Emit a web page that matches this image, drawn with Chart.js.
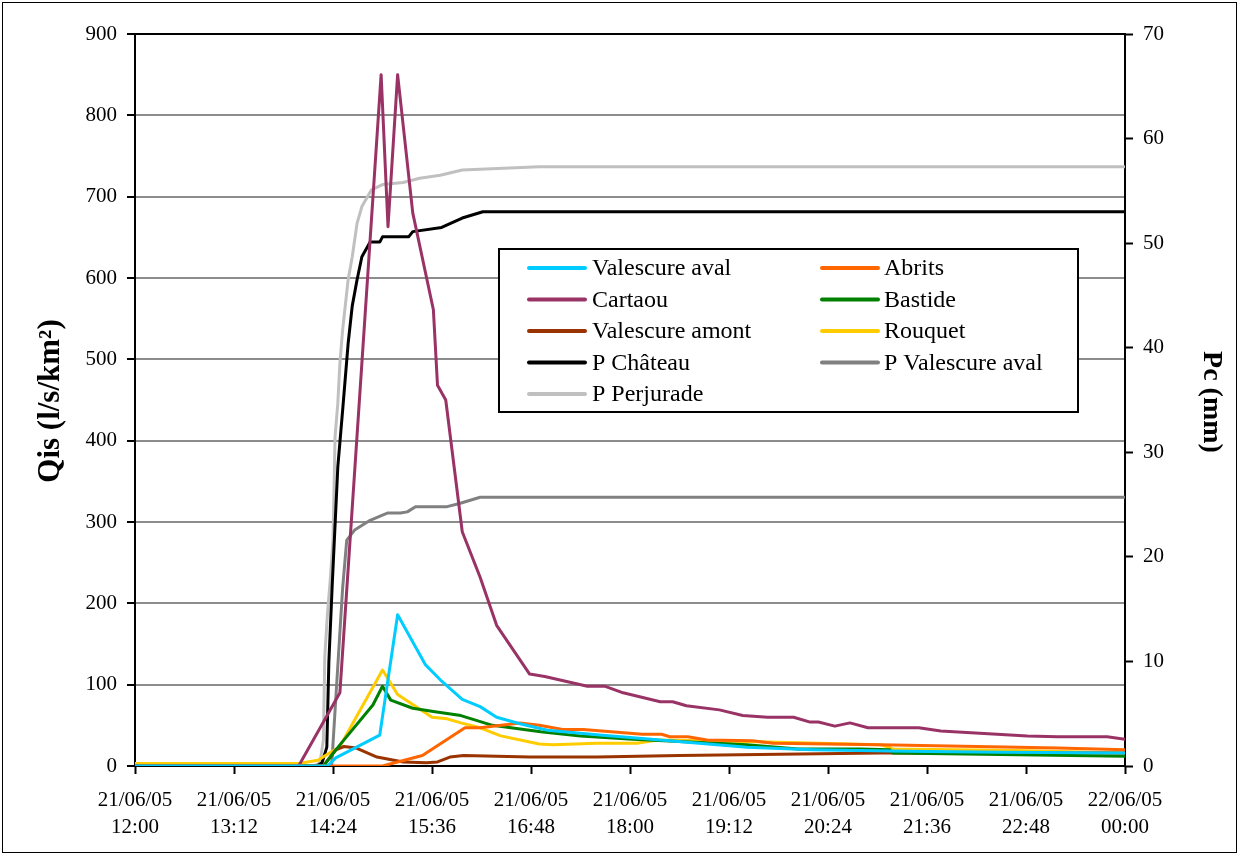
<!DOCTYPE html>
<html>
<head>
<meta charset="utf-8">
<script src="https://cdn.jsdelivr.net/npm/chart.js@4/dist/chart.umd.min.js"></script>
<style>
  html, body { margin: 0; padding: 0; background: #fff; }
  #wrap { width: 1239px; height: 855px; }
</style>
</head>
<body>
<div id="wrap"><canvas id="c" width="1239" height="855"></canvas></div>
<script>
// Time axis: minutes after 21/06/05 12:00, ticks every 1 h 12
const tickDates = ['21/06/05','21/06/05','21/06/05','21/06/05','21/06/05','21/06/05','21/06/05','21/06/05','21/06/05','21/06/05','22/06/05'];
const tickTimes = ['12:00','13:12','14:24','15:36','16:48','18:00','19:12','20:24','21:36','22:48','00:00'];

// Specific discharge Qis (l/s/km2)
const valescureAvalMin = [0, 140, 146, 178, 191, 211, 222, 238, 251, 263, 280, 300, 338, 382, 445, 493, 560, 630, 720];
const valescureAvalQ   = [0, 0, 10, 38, 186, 125, 106, 82, 73, 60, 52, 44, 38, 32, 23, 20, 18, 17, 16];

const abritsMin = [0, 180, 209, 240, 251, 280, 294, 311, 326, 369, 383, 389, 402, 416, 449, 464, 542, 642, 671, 720];
const abritsQ   = [0, 0, 13, 47, 47, 53, 50, 45, 45, 39, 39, 36, 36, 32, 31, 28, 26, 23, 22, 20];

const cartaouMin = [0, 119, 149, 179, 184, 191, 202, 217, 220, 226, 238, 251, 263, 287, 298, 329, 342, 355, 382, 391, 401, 425, 442, 460, 479, 491, 497, 509, 520, 533, 570, 586, 649, 671, 707, 720];
const cartaouQ   = [0, 0, 90, 850, 663, 850, 680, 561, 468, 450, 288, 232, 173, 113, 110, 98, 98, 90, 79, 79, 74, 69, 62, 60, 60, 54, 54, 49, 53, 47, 47, 43, 37, 36, 36, 33];

const bastideMin = [0, 137, 149, 173, 180, 186, 202, 217, 237, 260, 295, 324, 362, 445, 482, 527, 549, 551, 720];
const bastideQ   = [0, 0, 26, 75, 98, 81, 71, 67, 62, 50, 42, 37, 33, 26, 21, 21, 20, 16, 12];

const valescureAmontMin = [0, 137, 146, 152, 161, 176, 195, 212, 220, 229, 239, 287, 336, 396, 542, 720];
const valescureAmontQ   = [0, 0, 20, 24, 22, 11, 5, 4, 5, 11, 13, 11, 11, 13, 16, 16];

const rouquetMin = [0, 119, 133, 149, 180, 191, 216, 227, 237, 251, 266, 294, 304, 336, 365, 380, 445, 542, 549, 551, 642, 720];
const rouquetQ   = [3, 3, 7, 24, 118, 88, 60, 58, 53, 47, 37, 27, 26, 28, 28, 32, 30, 26, 23, 21, 19, 16];

// Cumulative rainfall Pc (mm)
const chateauMin = [0, 132, 136, 139.5, 141, 143.5, 147.5, 151, 155, 158, 161.5, 165, 171, 178, 180, 199, 202, 223, 238, 253, 720];
const chateauP   = [0, 0, 0.3, 1.8, 10, 17.5, 28.6, 34, 40.4, 44, 46.5, 48.7, 50.1, 50.1, 50.6, 50.6, 51.1, 51.5, 52.4, 53, 53];

const pValescureAvalMin = [0, 143, 151, 154, 160, 171, 180, 184, 193, 198, 204, 227, 236, 251, 720];
const pValescureAvalP   = [0, 0, 17, 21.6, 22.6, 23.5, 24.0, 24.2, 24.2, 24.3, 24.8, 24.8, 25.1, 25.7, 25.7];

const perjuradeMin = [0, 130, 134.5, 137, 138, 140, 142, 144, 145.5, 147.5, 149, 151, 155, 158, 161.5, 165, 172, 180, 195, 207, 222, 238, 294, 720];
const perjuradeP   = [0, 0, 0.3, 2.5, 10.4, 14.6, 17.8, 21.6, 31.5, 34.7, 38.5, 41.7, 46.5, 48.7, 51.9, 53.5, 55.1, 55.6, 55.8, 56.2, 56.5, 57, 57.3, 57.3];

const pts = (xs, ys) => xs.map((x, i) => ({ x: x, y: ys[i] }));

const serif = 'Liberation Serif, Times New Roman, serif';

function series(label, color, xs, ys, axis) {
  return {
    label: label,
    data: pts(xs, ys),
    borderColor: color,
    backgroundColor: color,
    borderWidth: 3,
    pointRadius: 0,
    tension: 0,
    fill: false,
    yAxisID: axis,
    borderJoinStyle: 'round',
    borderCapStyle: 'round'
  };
}

const datasets = [
  series('Valescure aval', '#00CCFF', valescureAvalMin, valescureAvalQ, 'yQ'),
  series('Abrits', '#FF6600', abritsMin, abritsQ, 'yQ'),
  series('Cartaou', '#993366', cartaouMin, cartaouQ, 'yQ'),
  series('Bastide', '#008000', bastideMin, bastideQ, 'yQ'),
  series('Valescure amont', '#993300', valescureAmontMin, valescureAmontQ, 'yQ'),
  series('Rouquet', '#FFCC00', rouquetMin, rouquetQ, 'yQ'),
  series('P Château', '#000000', chateauMin, chateauP, 'yP'),
  series('P Valescure aval', '#808080', pValescureAvalMin, pValescureAvalP, 'yP'),
  series('P Perjurade', '#C0C0C0', perjuradeMin, perjuradeP, 'yP')
];

// Page background, outer frame, top edge of the plot, axis titles and legend box
const decorations = {
  id: 'decorations',
  beforeDraw(chart) {
    const ctx = chart.ctx;
    ctx.save();
    ctx.fillStyle = '#fff';
    ctx.fillRect(0, 0, chart.width, chart.height);
    ctx.restore();
  },
  afterDraw(chart) {
    const ctx = chart.ctx;
    const a = chart.chartArea;
    ctx.save();
    // outer frame
    ctx.strokeStyle = '#000';
    ctx.lineWidth = 1;
    ctx.strokeRect(2.5, 2.5, chart.width - 5, chart.height - 5);
    // top edge of the plot area
    ctx.lineWidth = 2;
    ctx.beginPath();
    ctx.moveTo(a.left, a.top);
    ctx.lineTo(a.right, a.top);
    ctx.stroke();

    // axis titles
    ctx.fillStyle = '#000';
    ctx.textAlign = 'center';
    ctx.textBaseline = 'middle';
    ctx.save();
    ctx.font = 'bold 31px ' + serif;
    ctx.translate(51, 401);
    ctx.rotate(-Math.PI / 2);
    ctx.fillText('Qis (l/s/km²)', 0, 0);
    ctx.restore();
    ctx.save();
    ctx.font = 'bold 28px ' + serif;
    ctx.translate(1211, 402);
    ctx.rotate(Math.PI / 2);
    ctx.fillText('Pc (mm)', 0, 0);
    ctx.restore();

    // legend
    const box = { x: 499, y: 249, w: 579, h: 163 };
    ctx.fillStyle = '#fff';
    ctx.fillRect(box.x, box.y, box.w, box.h);
    ctx.strokeStyle = '#000';
    ctx.lineWidth = 2;
    ctx.strokeRect(box.x, box.y, box.w, box.h);
    const colSample = [529, 822];
    const colText = [592, 884];
    ctx.font = '24px ' + serif;
    ctx.textAlign = 'left';
    ctx.textBaseline = 'middle';
    chart.data.datasets.forEach((ds, i) => {
      const col = i % 2;
      const row = Math.floor(i / 2);
      const y = 268 + row * 31.5;
      ctx.strokeStyle = ds.borderColor;
      ctx.lineWidth = 4;
      ctx.lineCap = 'round';
      ctx.beginPath();
      ctx.moveTo(colSample[col], y);
      ctx.lineTo(colSample[col] + 56, y);
      ctx.stroke();
      ctx.fillStyle = '#000';
      ctx.fillText(ds.label, colText[col], y + 1);
    });
    ctx.restore();
  }
};

const tickFont = { family: serif, size: 21 };

new Chart(document.getElementById('c'), {
  type: 'line',
  data: { datasets: datasets },
  options: {
    responsive: false,
    animation: false,
    devicePixelRatio: 1,
    layout: { padding: { top: 34, left: 0, right: 0, bottom: 0 } },
    plugins: { legend: { display: false }, tooltip: { enabled: false } },
    scales: {
      x: {
        type: 'linear',
        min: 0,
        max: 720,
        ticks: {
          stepSize: 72,
          autoSkip: false,
          maxRotation: 0,
          minRotation: 0,
          color: '#000',
          font: { family: serif, size: 21, lineHeight: 1.3 },
          padding: 13,
          callback: (v) => {
            const i = Math.round(v / 72);
            return [tickDates[i], tickTimes[i]];
          }
        },
        grid: { drawOnChartArea: false, drawTicks: true, tickLength: 8, tickColor: '#000', tickWidth: 2 },
        border: { color: '#000', width: 2 },
        afterFit: (s) => { s.height = 89; }
      },
      yQ: {
        position: 'left',
        min: 0,
        max: 900,
        ticks: { stepSize: 100, color: '#000', font: tickFont, padding: 10 },
        grid: { color: '#8c8c8c', lineWidth: 2, tickColor: '#000', tickLength: 8, tickWidth: 2 },
        border: { color: '#000', width: 2 },
        afterFit: (s) => { s.width = 135; }
      },
      yP: {
        position: 'right',
        min: 0,
        max: 70,
        ticks: { stepSize: 10, color: '#000', font: tickFont, padding: 10 },
        grid: { drawOnChartArea: false, tickColor: '#000', tickLength: 8, tickWidth: 2 },
        border: { color: '#000', width: 2 },
        afterFit: (s) => { s.width = 114; }
      }
    }
  },
  plugins: [decorations]
});
</script>
</body>
</html>
